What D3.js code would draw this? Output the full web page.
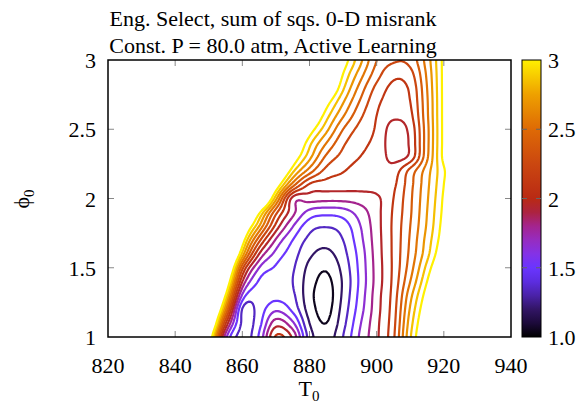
<!DOCTYPE html>
<html>
<head>
<meta charset="utf-8">
<script src="https://cdn.jsdelivr.net/npm/d3@7"></script>
<style>
  body { margin: 0; background: #fff; }
  text { font-family: "Liberation Serif", "Times New Roman", serif; fill: #000; }
</style>
</head>
<body>
<div id="chart"></div>
<script>
// grid axes
var T0 = [845, 850, 855, 860, 865, 870, 875, 880, 885, 890, 895, 900, 905, 910, 915, 920, 925, 930];
var phi0 = [1.0, 1.1, 1.2, 1.3, 1.4, 1.5, 1.6, 1.7, 1.8, 1.9, 2.0, 2.1, 2.2, 2.3, 2.4, 2.5, 2.6, 2.7, 2.8, 2.9, 3.0];

// misrank, one row per phi0 value, one column per T0 value
var misrank = [
  [5.0, 3.35, 1.72, 1.29, 1.52, 2.12, 1.92, 1.28, 1.12, 1.35, 1.67, 1.92, 2.22, 2.83, 3.3, 3.75, 4.2, 4.65],
  [5.4, 3.8, 2.12, 1.32, 1.45, 1.88, 1.68, 1.2, 1.05, 1.3, 1.63, 1.91, 2.2, 2.78, 3.25, 3.7, 4.15, 4.6],
  [5.8, 4.2, 2.58, 1.34, 1.42, 1.62, 1.46, 1.13, 1.0, 1.26, 1.58, 1.89, 2.18, 2.72, 3.18, 3.62, 4.07, 4.52],
  [6.2, 4.6, 3.0, 1.62, 1.41, 1.45, 1.38, 1.1, 0.98, 1.23, 1.55, 1.88, 2.16, 2.65, 3.1, 3.55, 4.0, 4.45],
  [6.6, 5.0, 3.4, 1.95, 1.48, 1.44, 1.35, 1.12, 1.01, 1.22, 1.53, 1.86, 2.14, 2.55, 3.0, 3.45, 3.9, 4.35],
  [7.0, 5.4, 3.8, 2.3, 1.65, 1.48, 1.37, 1.16, 1.07, 1.25, 1.54, 1.86, 2.13, 2.48, 2.9, 3.32, 3.75, 4.2],
  [7.4, 5.8, 4.2, 2.8, 1.95, 1.6, 1.42, 1.23, 1.16, 1.3, 1.56, 1.87, 2.13, 2.44, 2.8, 3.2, 3.6, 4.0],
  [7.8, 6.2, 4.6, 3.15, 2.3, 1.78, 1.5, 1.31, 1.26, 1.35, 1.6, 1.88, 2.13, 2.42, 2.76, 3.12, 3.5, 3.9],
  [8.2, 6.6, 5.0, 3.5, 2.7, 2.05, 1.66, 1.41, 1.36, 1.42, 1.64, 1.89, 2.13, 2.4, 2.72, 3.08, 3.45, 3.85],
  [8.6, 7.0, 5.4, 3.9, 3.05, 2.3, 1.85, 1.6, 1.55, 1.58, 1.72, 1.9, 2.12, 2.38, 2.7, 3.05, 3.4, 3.8],
  [9.0, 7.4, 5.8, 4.5, 3.75, 2.75, 1.9, 1.87, 1.85, 1.85, 1.87, 1.92, 2.1, 2.37, 2.68, 3.03, 3.4, 3.8],
  [9.4, 7.8, 6.2, 4.8, 4.0, 3.2, 2.48, 2.08, 2.03, 2.02, 2.01, 2.02, 2.07, 2.35, 2.66, 3.0, 3.35, 3.75],
  [9.8, 8.2, 6.6, 5.2, 4.3, 3.6, 2.9, 2.48, 2.2, 2.11, 2.04, 2.02, 2.02, 2.3, 2.63, 2.98, 3.3, 3.7],
  [10.2, 8.6, 7.0, 5.5, 4.6, 3.9, 3.2, 2.75, 2.37, 2.2, 2.1, 2.05, 1.9, 2.0, 2.52, 3.05, 3.4, 3.8],
  [10.6, 9.0, 7.4, 5.8, 4.9, 4.1, 3.4, 2.9, 2.55, 2.28, 2.14, 2.06, 1.87, 1.98, 2.5, 3.05, 3.4, 3.8],
  [11.0, 9.4, 7.8, 6.1, 5.2, 4.3, 3.6, 3.12, 2.75, 2.4, 2.2, 2.08, 1.89, 2.0, 2.5, 3.05, 3.4, 3.8],
  [11.4, 9.8, 8.2, 6.4, 5.5, 4.5, 3.8, 3.35, 2.92, 2.57, 2.29, 2.1, 1.98, 2.06, 2.52, 3.05, 3.4, 3.8],
  [11.8, 10.2, 8.6, 6.7, 5.8, 4.8, 4.0, 3.5, 3.1, 2.72, 2.39, 2.14, 2.04, 2.1, 2.53, 3.05, 3.4, 3.8],
  [12.2, 10.6, 9.0, 7.0, 6.1, 5.1, 4.2, 3.7, 3.35, 2.88, 2.5, 2.21, 2.07, 2.13, 2.55, 3.05, 3.4, 3.8],
  [12.6, 11.0, 9.4, 7.3, 6.4, 5.4, 4.4, 3.85, 3.5, 3.0, 2.63, 2.32, 2.14, 2.2, 2.58, 3.05, 3.4, 3.8],
  [13.0, 11.4, 9.8, 7.6, 6.7, 5.7, 4.6, 4.0, 3.6, 3.12, 2.75, 2.4, 2.27, 2.3, 2.62, 3.05, 3.4, 3.8]
];

var levels = [1.05, 1.2, 1.35, 1.5, 1.65, 1.8, 1.95, 2.1, 2.25, 2.4, 2.55, 2.7, 2.85, 3.0];

var xTicks = [820, 840, 860, 880, 900, 920, 940];
var yTicks = [1, 1.5, 2, 2.5, 3];
var cbTicks = [1, 1.5, 2, 2.5, 3];
var cbLabels = ["1.0", "1.5", "2", "2.5", "3"];

var titleLines = ["Eng. Select, sum of sqs. 0-D misrank", "Const. P = 80.0 atm, Active Learning"];

// palette (value -> colour), gnuplot-like black-violet-red-yellow
var palStops = [1.0, 1.1, 1.2, 1.3, 1.4, 1.5, 1.6, 1.7, 1.8, 1.9, 2.0, 2.25, 2.5, 2.75, 3.0];
var palColors = ["#000000", "#1c0a3a", "#321565", "#4a22a8", "#5c2de0", "#6a35ff", "#8432e6", "#962cc0",
                 "#a4248e", "#ac2340", "#b92a14", "#cb4710", "#de6a05", "#eea000", "#fff000"];

var W = 584, H = 404;
var pL = 108, pR = 511, pT = 60, pB = 337;

var svg = d3.select('#chart').append('svg')
  .attr('width', W)
  .attr('height', H);

var x = d3.scaleLinear().domain([820, 940]).range([pL, pR]);
var y = d3.scaleLinear().domain([1, 3]).range([pB, pT]);
var color = d3.scaleLinear().domain(palStops).range(palColors).interpolate(d3.interpolateRgb);

// smooth the grid (catmull-rom) before contouring
var k = 8,
    nT = T0.length,
    nP = phi0.length,
    gx = (nT - 1) * k + 1,
    gy = (nP - 1) * k + 1;

function cell(i, j) {
  i = Math.max(0, Math.min(nT - 1, i));
  j = Math.max(0, Math.min(nP - 1, j));
  return misrank[j][i];
}
function cr(a, b, c, d, t) {
  return b + 0.5 * t * (c - a + t * (2 * a - 5 * b + 4 * c - d + t * (3 * (b - c) + d - a)));
}

var grid = new Array(gx * gy);
for (var jj = 0; jj < gy; jj++) {
  var j = Math.min(Math.floor(jj / k), nP - 2), tj = jj / k - j;
  for (var ii = 0; ii < gx; ii++) {
    var i = Math.min(Math.floor(ii / k), nT - 2), ti = ii / k - i;
    var r = [-1, 0, 1, 2].map(dj => cr(cell(i - 1, j + dj), cell(i, j + dj), cell(i + 1, j + dj), cell(i + 2, j + dj), ti));
    grid[jj * gx + ii] = cr(r[0], r[1], r[2], r[3], tj);
  }
}

var contours = d3.contours().size([gx, gy]).thresholds(levels)(grid);

var dT = (T0[1] - T0[0]) / k, dP = (phi0[1] - phi0[0]) / k;
function px(c) { return x(T0[0] + (c - 0.5) * dT); }
function py(c) { return y(phi0[0] + (c - 0.5) * dP); }
function onEdge(p) { return p[0] <= 0 || p[0] >= gx || p[1] <= 0 || p[1] >= gy; }

// polygons -> open lines (drop the pieces that run along the grid border)
function linePath(mp) {
  var s = '';
  mp.coordinates.forEach(poly => poly.forEach(ring => {
    var pen = false;
    for (var n = 1; n < ring.length; n++) {
      var a = ring[n - 1], b = ring[n];
      if (onEdge(a) && onEdge(b)) { pen = false; continue; }
      if (!pen) { s += 'M' + px(a[0]).toFixed(2) + ',' + py(a[1]).toFixed(2); pen = true; }
      s += 'L' + px(b[0]).toFixed(2) + ',' + py(b[1]).toFixed(2);
    }
  }));
  return s;
}

svg.append('clipPath').attr('id', 'plotclip')
  .append('rect')
  .attr('x', pL).attr('y', pT)
  .attr('width', pR - pL).attr('height', pB - pT);

svg.append('g')
  .attr('clip-path', 'url(#plotclip)')
  .selectAll('path')
  .data(contours)
  .enter().append('path')
  .attr('d', linePath)
  .attr('fill', 'none')
  .attr('stroke', d => color(d.value))
  .attr('stroke-width', 2.2)
  .attr('stroke-linejoin', 'round');

// ticks inside the frame
var tickG = svg.append('g').attr('stroke', '#888').attr('stroke-width', 1);
xTicks.slice(1, -1).forEach(t => {
  tickG.append('line').attr('x1', x(t)).attr('x2', x(t)).attr('y1', pB).attr('y2', pB - 6);
  tickG.append('line').attr('x1', x(t)).attr('x2', x(t)).attr('y1', pT).attr('y2', pT + 6);
});
yTicks.slice(1, -1).forEach(t => {
  tickG.append('line').attr('x1', pL).attr('x2', pL + 6).attr('y1', y(t)).attr('y2', y(t));
  tickG.append('line').attr('x1', pR).attr('x2', pR - 6).attr('y1', y(t)).attr('y2', y(t));
});

svg.append('rect')
  .attr('x', pL).attr('y', pT)
  .attr('width', pR - pL).attr('height', pB - pT)
  .attr('fill', 'none')
  .attr('stroke', '#000')
  .attr('stroke-width', 1.5);

// tick labels
svg.append('g').selectAll('text')
  .data(xTicks)
  .enter().append('text')
  .attr('x', d => x(d))
  .attr('y', 373)
  .attr('text-anchor', 'middle')
  .style('font-size', '22px')
  .text(d => d);

svg.append('g').selectAll('text')
  .data(yTicks)
  .enter().append('text')
  .attr('x', 96)
  .attr('y', d => y(d) + 8)
  .attr('text-anchor', 'end')
  .style('font-size', '22px')
  .text(d => d);

// axis titles
var xt = svg.append('text')
  .attr('x', 309)
  .attr('y', 396)
  .attr('text-anchor', 'middle')
  .style('font-size', '22px');
xt.append('tspan').text('T');
xt.append('tspan').attr('dy', 5).style('font-size', '15px').text('0');

var yt = svg.append('text')
  .attr('transform', 'translate(29,199) rotate(-90)')
  .attr('text-anchor', 'middle')
  .style('font-size', '22px');
yt.append('tspan').text('\u03d5');
yt.append('tspan').attr('dy', 5).style('font-size', '15px').text('0');

// title
svg.append('g').selectAll('text')
  .data(titleLines)
  .enter().append('text')
  .attr('x', 273)
  .attr('y', (d, i) => 26 + i * 27)
  .attr('text-anchor', 'middle')
  .style('font-size', '22px')
  .text(d => d);

// colour box
var cbX = 522, cbW = 19;
var cy = d3.scaleLinear().domain([1, 3]).range([pB, pT]);
var grad = svg.append('defs').append('linearGradient')
  .attr('id', 'cbgrad')
  .attr('x1', 0).attr('y1', 1).attr('x2', 0).attr('y2', 0);
grad.selectAll('stop')
  .data(palStops)
  .enter().append('stop')
  .attr('offset', d => (d - 1) / 2)
  .attr('stop-color', (d, i) => palColors[i]);

svg.append('rect')
  .attr('x', cbX).attr('y', pT)
  .attr('width', cbW).attr('height', pB - pT)
  .attr('fill', 'url(#cbgrad)')
  .attr('stroke', '#000')
  .attr('stroke-width', 1);

var cbTickG = svg.append('g').attr('stroke', '#666').attr('stroke-width', 1);
cbTicks.slice(1, -1).forEach(t => {
  cbTickG.append('line').attr('x1', cbX).attr('x2', cbX + 5).attr('y1', cy(t)).attr('y2', cy(t));
  cbTickG.append('line').attr('x1', cbX + cbW - 5).attr('x2', cbX + cbW).attr('y1', cy(t)).attr('y2', cy(t));
});

svg.append('g').selectAll('text')
  .data(cbTicks)
  .enter().append('text')
  .attr('x', 548)
  .attr('y', d => cy(d) + 8)
  .style('font-size', '22px')
  .text((d, i) => cbLabels[i]);
</script>
</body>
</html>
